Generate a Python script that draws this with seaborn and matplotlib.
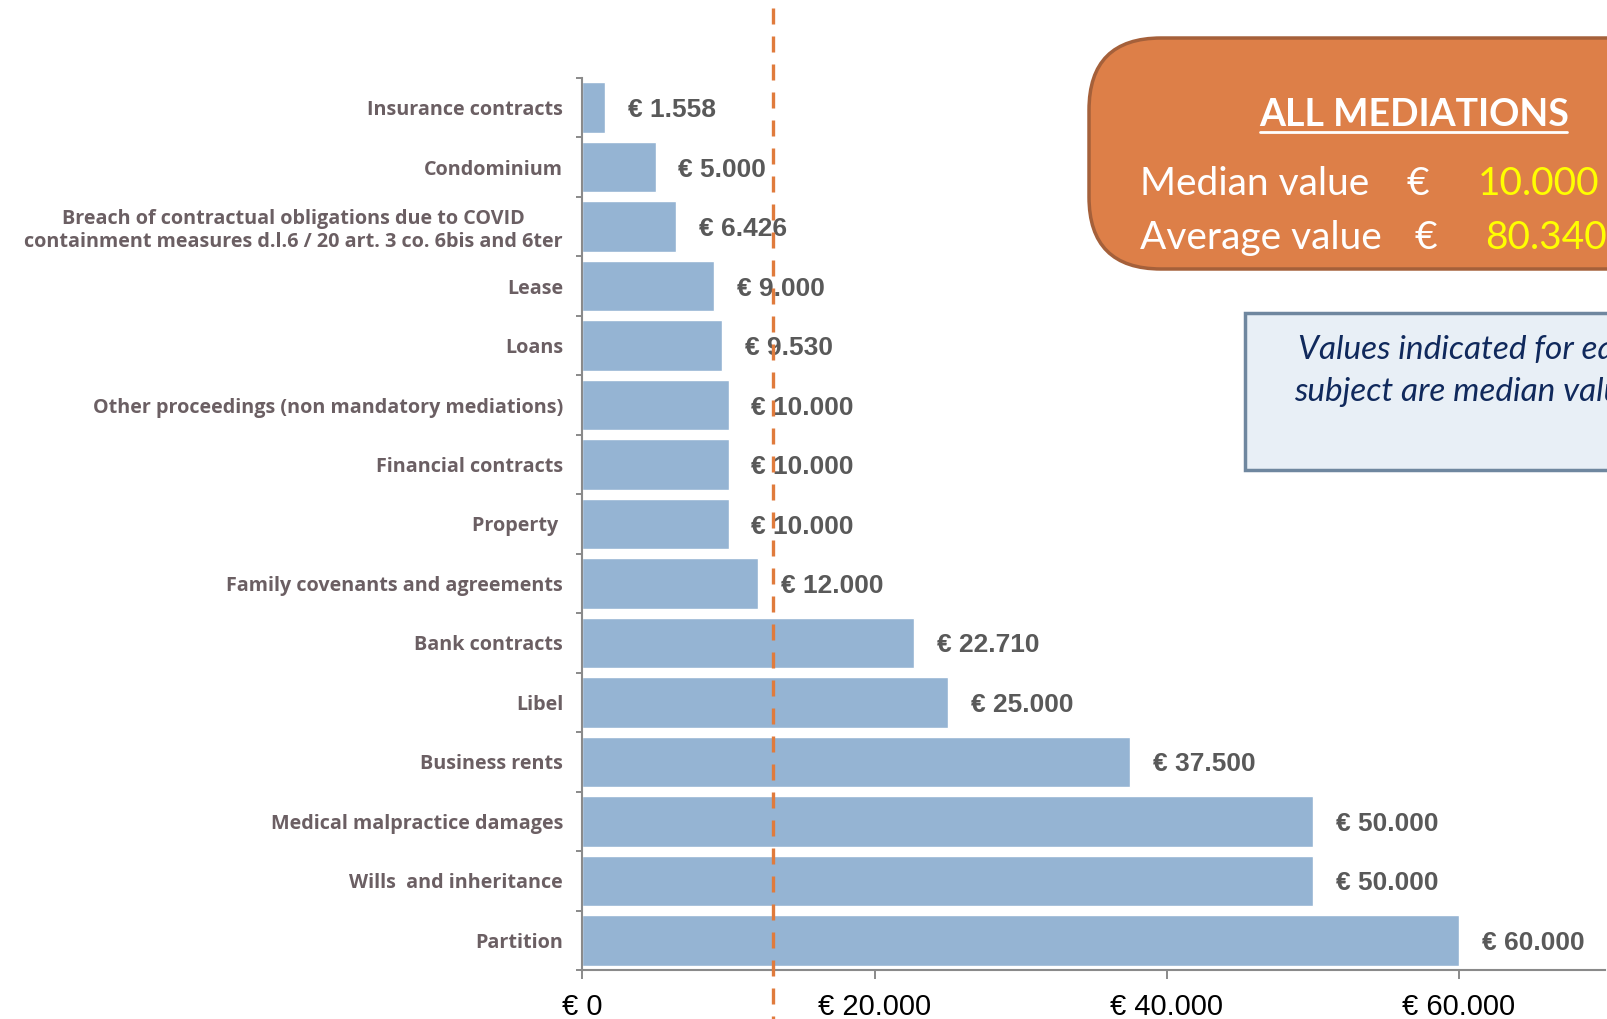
import numpy as np
import pandas as pd
import matplotlib
matplotlib.use("Agg")
import matplotlib.pyplot as plt
from matplotlib.patches import FancyBboxPatch, Rectangle
from matplotlib.lines import Line2D
from matplotlib.ticker import FuncFormatter
import seaborn as sns

# Data (median value per subject, euro)
categories = [
    "Insurance contracts",
    "Condominium",
    "Breach of contractual obligations due to COVID\ncontainment measures d.l.6 / 20 art. 3 co. 6bis and 6ter",
    "Lease",
    "Loans",
    "Other proceedings (non mandatory mediations)",
    "Financial contracts",
    "Property ",
    "Family covenants and agreements",
    "Bank contracts",
    "Libel",
    "Business rents",
    "Medical malpractice damages",
    "Wills  and inheritance",
    "Partition",
]
values = [1558, 5000, 6426, 9000, 9530, 10000, 10000, 10000, 12000,
          22710, 25000, 37500, 50000, 50000, 60000]
x_ticks = [0, 20000, 40000, 60000]
ref_line = 13050  # dashed orange reference line

median_all = "10.000"
average_all = "80.340"
box_title = "ALL MEDIATIONS"
note_text = "Values indicated for each\nsubject are median values"

BAR_COLOR = "#95B4D3"
AXIS_COLOR = "#8a8a8a"
LABEL_COLOR = "#6B5F63"
VALUE_COLOR = "#595959"
ORANGE = "#DD7F48"

W, H = 1608, 1019


def fx(x):
    return x / W


def fy(y):
    return 1 - y / H


def euro(v, pos=None):
    return "€ " + f"{v:,.0f}".replace(",", ".")


sns.set_style("ticks")
plt.rcParams["font.family"] = ["Liberation Sans", "DejaVu Sans"]

df = pd.DataFrame({"subject": categories, "value": values})

fig = plt.figure(figsize=(W / 100, H / 100), dpi=100)
ax = fig.add_axes([fx(582.5), fy(970), fx(1605) - fx(582.5), fy(78) - fy(970)])

sns.barplot(data=df, x="value", y="subject", orient="h", color=BAR_COLOR,
            saturation=1, width=0.85, ax=ax)

ax.set_xlim(0, 70000)
ax.set_ylim(len(categories) - 0.5, -0.5)
ax.set_xticks(x_ticks)
ax.xaxis.set_major_formatter(FuncFormatter(euro))
ax.set_xlabel("")
ax.set_ylabel("")

for side in ["top", "right"]:
    ax.spines[side].set_visible(False)
for side in ["left", "bottom"]:
    ax.spines[side].set_color(AXIS_COLOR)
    ax.spines[side].set_linewidth(1.5)

ax.set_yticks(np.arange(-0.5, len(categories), 1), minor=True)
ax.tick_params(axis="y", which="major", length=0, pad=14)
ax.tick_params(axis="y", which="minor", length=4.5, width=1.4, color=AXIS_COLOR)
ax.tick_params(axis="x", which="major", length=6.5, width=1.4, color=AXIS_COLOR,
               pad=10, labelsize=21, labelcolor="black")

for lbl in ax.get_yticklabels():
    lbl.set_fontfamily("Open Sans")
    lbl.set_fontweight("bold")
    lbl.set_fontsize(14.2)
    lbl.set_color(LABEL_COLOR)
    lbl.set_multialignment("center")

vals = ax.bar_label(ax.containers[0], labels=[euro(v) for v in values], padding=16.5,
                    fontsize=19, fontweight="bold", color=VALUE_COLOR)
for t in vals:
    t.set_verticalalignment("center_baseline")

# dashed reference line, running above and below the plot area
yt = (970 - 8) / 892
yb = (970 - 1019) / 892
ax.plot([ref_line, ref_line], [yt, yb], transform=ax.get_xaxis_transform(),
        color="#E07B3C", lw=2.4, dashes=(4.8, 3.6), dash_capstyle="butt",
        clip_on=False, zorder=5)

# orange summary box
orange_box = FancyBboxPatch((10.89, (H - 269) / 100), 6.0, 2.31,
                            boxstyle="round,pad=0,rounding_size=0.72",
                            transform=fig.dpi_scale_trans, facecolor=ORANGE,
                            edgecolor="#A5603A", linewidth=2.5, clip_on=False)
fig.add_artist(orange_box)
fig.text(fx(1414), fy(115), box_title, ha="center", va="center", color="white",
         fontsize=27, fontweight="bold", fontfamily="Lato")
fig.add_artist(Line2D([fx(1260), fx(1567)], [fy(132), fy(132)], color="white", lw=2))
for y, name, num, ex, nx in [(184, "Median value", median_all, 1407, 1478),
                             (238, "Average value", average_all, 1415, 1485)]:
    fig.text(fx(1140), fy(y), name, ha="left", va="center", color="white",
             fontsize=28, fontfamily="Lato")
    fig.text(fx(ex), fy(y), "€", ha="left", va="center", color="white",
             fontsize=28, fontfamily="Lato")
    fig.text(fx(nx), fy(y), num, ha="left", va="center", color="#FFFF00",
             fontsize=28, fontfamily="Lato")

# note box
note_box = Rectangle((fx(1245), fy(470)), 0.5, fy(313) - fy(470),
                     transform=fig.transFigure, facecolor="#E8EFF6",
                     edgecolor="#6F879F", linewidth=2.5)
fig.add_artist(note_box)
fig.text(fx(1294), fy(371), note_text, ha="left", va="center", color="#10295C",
         fontsize=24, fontstyle="italic", fontfamily="Lato", multialignment="center",
         linespacing=1.5)

fig.savefig("out.png", dpi=100)
